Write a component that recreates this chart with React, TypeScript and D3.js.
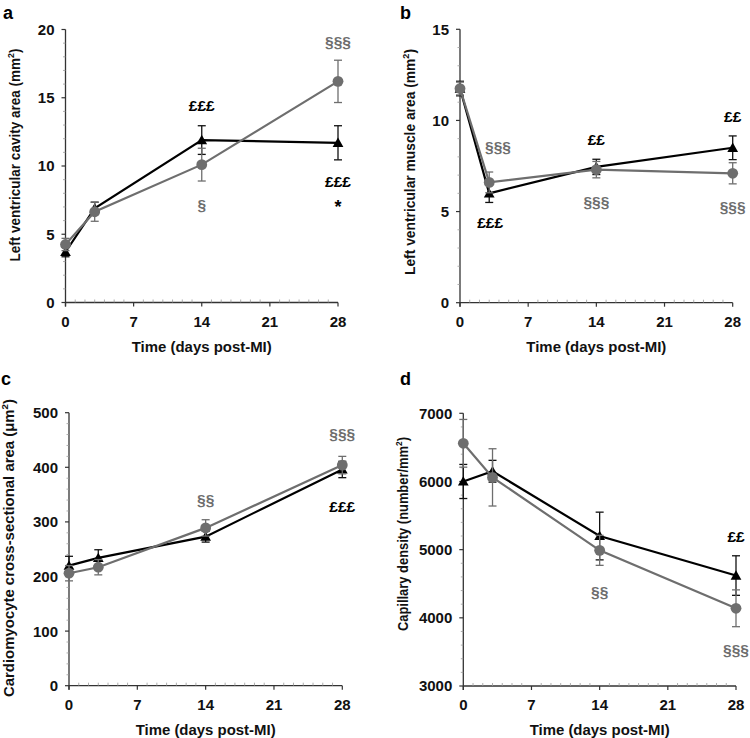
import React from "react";
import * as d3 from "d3";

// ---------- data ----------
const days = [0, 3, 14, 28];
const xTicks = [0, 7, 14, 21, 28];

// panel a: LV cavity area (mm2)
const cavityBlack = [3.7, 6.9, 11.9, 11.7];
const cavityBlackErr = [0.35, 0.45, 1.05, 1.25];
const cavityGrey = [4.25, 6.65, 10.1, 16.2];
const cavityGreyErr = [0.45, 0.7, 1.2, 1.55];
const cavityTicks = [0, 5, 10, 15, 20];
const cavityNotes = [
  { day: 14, v: 14.45, t: "£££", c: "black" },
  { day: 28, v: 19.1, t: "§§§", c: "grey" },
  { day: 28, v: 8.85, t: "£££", c: "black" },
  { day: 28, v: 7.0, t: "*", c: "black" },
  { day: 14, v: 7.15, t: "§", c: "grey" },
];

// panel b: LV muscle area (mm2)
const muscleBlack = [11.75, 6.0, 7.45, 8.5];
const muscleBlackErr = [0.4, 0.5, 0.42, 0.65];
const muscleGrey = [11.75, 6.6, 7.3, 7.1];
const muscleGreyErr = [0.35, 0.57, 0.45, 0.58];
const muscleTicks = [0, 5, 10, 15];
const muscleNotes = [
  { day: 3.9, v: 8.55, t: "§§§", c: "grey" },
  { day: 3.1, v: 4.4, t: "£££", c: "black" },
  { day: 14, v: 8.95, t: "££", c: "black" },
  { day: 14, v: 5.55, t: "§§§", c: "grey" },
  { day: 28, v: 10.2, t: "££", c: "black" },
  { day: 28, v: 5.3, t: "§§§", c: "grey" },
];

// panel c: cardiomyocyte cross-sectional area (µm2)
const cardioBlack = [220, 234, 273, 396];
const cardioBlackErr = [17, 15, 10, 15];
const cardioGrey = [206, 217, 289, 404];
const cardioGreyErr = [14, 14, 15, 16];
const cardioTicks = [0, 100, 200, 300, 400, 500];
const cardioNotes = [
  { day: 14, v: 341, t: "§§", c: "grey" },
  { day: 28, v: 462, t: "§§§", c: "grey" },
  { day: 28, v: 328, t: "£££", c: "black" },
];

// panel d: capillary density (number/mm2)
const capBlack = [6000, 6150, 5200, 4620];
const capBlackErr = [250, 160, 350, 290];
const capGrey = [6560, 6060, 4990, 4140];
const capGreyErr = [350, 420, 220, 270];
const capTicks = [3000, 4000, 5000, 6000, 7000];
const capNotes = [
  { day: 28, v: 5190, t: "££", c: "black" },
  { day: 14, v: 4385, t: "§§", c: "grey" },
  { day: 28, v: 3530, t: "§§§", c: "grey" },
];

const GREY = "#6e6e6e";
const FONT = "'Liberation Sans', Arial, Helvetica, sans-serif";

type PanelProps = {
  label: string;
  labelPos: [number, number];
  x0: number; x1: number; yTop: number; yBot: number;
  yDomain: [number, number];
  yTicks: number[];
  yMinorStep: number;
  title: string;
  titleUnit: string;
  titleX: number;
  titleY: number;
  titleLen: number;
  black: number[]; blackErr: number[];
  grey: number[]; greyErr: number[];
  notes: { day: number; v: number; t: string; c: string }[];
};

function Panel(p: PanelProps) {
  const x = d3.scaleLinear().domain([0, 28]).range([p.x0, p.x1]);
  const y = d3.scaleLinear().domain(p.yDomain).range([p.yBot, p.yTop]);
  const line = d3
    .line<number>()
    .x((_, i) => x(days[i]))
    .y((v) => y(v));
  const yMinor = d3
    .range(p.yDomain[0], p.yDomain[1] + 1e-9, p.yMinorStep)
    .filter((v) => !p.yTicks.some((t) => Math.abs(t - v) < 1e-9));
  const xMinor = d3.range(0, 29).filter((v) => v % 7 !== 0);
  const tri = d3.symbol().type(d3.symbolTriangle).size(50)();
  const cap = 4;

  const errBars = (vals: number[], errs: number[], color: string) =>
    vals.map((v, i) => {
      const cx = x(days[i]);
      const t = y(v + errs[i]);
      const b = y(v - errs[i]);
      return (
        <g key={i} stroke={color} strokeWidth={1.3}>
          <line x1={cx} x2={cx} y1={t} y2={b} />
          <line x1={cx - cap} x2={cx + cap} y1={t} y2={t} />
          <line x1={cx - cap} x2={cx + cap} y1={b} y2={b} />
        </g>
      );
    });

  return (
    <g fontFamily={FONT} fontWeight="bold">
      <text x={p.labelPos[0]} y={p.labelPos[1]} fontSize={18} fill="#000">
        {p.label}
      </text>
      {/* axes */}
      <line x1={p.x0} x2={p.x0} y1={p.yTop} y2={p.yBot + 4} stroke="#333" strokeWidth={1.3} />
      <line x1={p.x0} x2={p.x1} y1={p.yBot} y2={p.yBot} stroke="#333" strokeWidth={1.3} />
      {p.yTicks.map((t) => (
        <g key={"yt" + t}>
          <line x1={p.x0 - 4} x2={p.x0} y1={y(t)} y2={y(t)} stroke="#333" strokeWidth={1.2} />
          <text x={p.x0 - 11} y={y(t)} dy="0.36em" textAnchor="end" fontSize={15} fill="#111">
            {t}
          </text>
        </g>
      ))}
      {yMinor.map((t) => (
        <line key={"ym" + t} x1={p.x0 - 2.5} x2={p.x0} y1={y(t)} y2={y(t)} stroke="#999" strokeWidth={0.8} />
      ))}
      {xTicks.map((t) => (
        <g key={"xt" + t}>
          <line x1={x(t)} x2={x(t)} y1={p.yBot} y2={p.yBot + 4} stroke="#333" strokeWidth={1.2} />
          <text x={x(t)} y={p.yBot + 19} dy="0.36em" textAnchor="middle" fontSize={15} fill="#111">
            {t}
          </text>
        </g>
      ))}
      {xMinor.map((t) => (
        <line key={"xm" + t} x1={x(t)} x2={x(t)} y1={p.yBot - 3} y2={p.yBot} stroke="#999" strokeWidth={0.8} />
      ))}
      <text
        x={(p.x0 + p.x1) / 2}
        y={p.yBot + 44}
        dy="0.36em"
        textAnchor="middle"
        fontSize={15}
        fill="#111"
        textLength={140}
        lengthAdjust="spacingAndGlyphs"
      >
        Time (days post-MI)
      </text>
      <text
        transform={`translate(${p.titleX},${p.titleY}) rotate(-90)`}
        textAnchor="middle"
        dy="0.36em"
        fontSize={14.5}
        fill="#111"
        textLength={p.titleLen}
        lengthAdjust="spacingAndGlyphs"
      >
        {p.title}
        <tspan>(</tspan>
        {p.titleUnit}
        <tspan fontSize={9.5} dy={-6}>2</tspan>
        <tspan dy={6}>)</tspan>
      </text>
      {/* series */}
      {errBars(p.black, p.blackErr, "#111")}
      <path d={line(p.black) || ""} fill="none" stroke="#000" strokeWidth={2.2} />
      {p.black.map((v, i) => (
        <path key={"tb" + i} d={tri || ""} transform={`translate(${x(days[i])},${y(v) + 1})`} fill="#000" />
      ))}
      {errBars(p.grey, p.greyErr, GREY)}
      <path d={line(p.grey) || ""} fill="none" stroke={GREY} strokeWidth={2.2} />
      {p.grey.map((v, i) => (
        <circle key={"cg" + i} cx={x(days[i])} cy={y(v)} r={5.4} fill={GREY} />
      ))}
      {/* annotations */}
      {p.notes.map((n, i) => (
        <text
          key={"n" + i}
          x={x(n.day)}
          y={y(n.v)}
          dy="0.36em"
          textAnchor="middle"
          fontSize={n.t === "*" ? 18 : 15.5}
          fill={n.c === "grey" ? GREY : "#000"}
        >
          {n.t}
        </text>
      ))}
    </g>
  );
}

export default function App() {
  return (
    <svg
      width={750}
      height={738}
      style={{ position: "absolute", left: 0, top: 0, background: "#fff" }}
    >
      <rect width={750} height={738} fill="#fff" />
      <Panel
        label="a" labelPos={[3, 19]}
        x0={65.5} x1={338} yTop={29.5} yBot={302.5}
        yDomain={[0, 20]} yTicks={cavityTicks} yMinorStep={1}
        title="Left ventricular cavity area " titleUnit="mm"
        titleX={15} titleY={155} titleLen={213}
        black={cavityBlack} blackErr={cavityBlackErr}
        grey={cavityGrey} greyErr={cavityGreyErr}
        notes={cavityNotes}
      />
      <Panel
        label="b" labelPos={[400, 19]}
        x0={460} x1={732.7} yTop={29.3} yBot={302.7}
        yDomain={[0, 15]} yTicks={muscleTicks} yMinorStep={1}
        title="Left ventricular muscle area " titleUnit="mm"
        titleX={410} titleY={162} titleLen={226}
        black={muscleBlack} blackErr={muscleBlackErr}
        grey={muscleGrey} greyErr={muscleGreyErr}
        notes={muscleNotes}
      />
      <Panel
        label="c" labelPos={[1, 385]}
        x0={69} x1={342.3} yTop={412.7} yBot={685.7}
        yDomain={[0, 500]} yTicks={cardioTicks} yMinorStep={20}
        title="Cardiomyocyte cross-sectional area " titleUnit="μm"
        titleX={9} titleY={548} titleLen={298}
        black={cardioBlack} blackErr={cardioBlackErr}
        grey={cardioGrey} greyErr={cardioGreyErr}
        notes={cardioNotes}
      />
      <Panel
        label="d" labelPos={[400, 385]}
        x0={463.3} x1={736} yTop={413.3} yBot={686}
        yDomain={[3000, 7000]} yTicks={capTicks} yMinorStep={200}
        title="Capillary density " titleUnit="number/mm"
        titleX={403} titleY={534} titleLen={194}
        black={capBlack} blackErr={capBlackErr}
        grey={capGrey} greyErr={capGreyErr}
        notes={capNotes}
      />
    </svg>
  );
}
